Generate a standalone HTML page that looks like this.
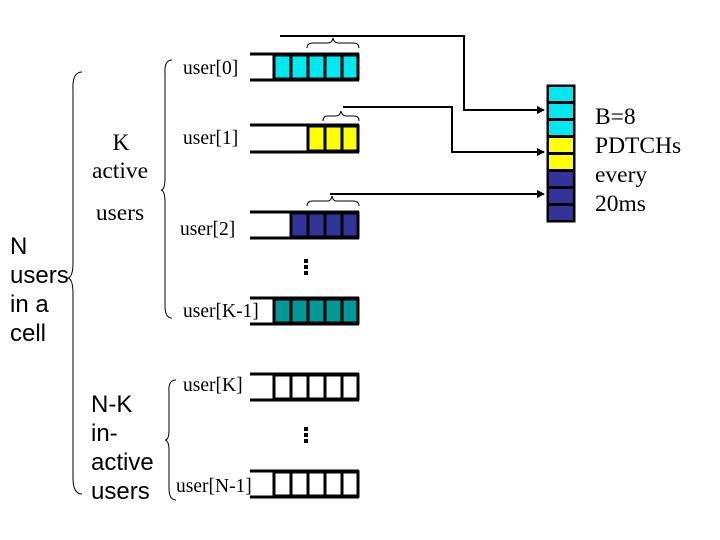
<!DOCTYPE html>
<html><head><style>
body{margin:0;background:#fff;width:720px;height:540px;overflow:hidden}
svg{display:block}
.s{font-family:"Liberation Serif",serif;font-size:19.5px}
.b{font-family:"Liberation Serif",serif;font-size:23.5px}
.k{font-family:"Liberation Serif",serif;font-size:23.5px}
.a{font-family:"Liberation Sans",sans-serif;font-size:24px}
</style></head><body>
<svg width="720" height="540" viewBox="0 0 720 540">
<defs><marker id="ar" markerWidth="8" markerHeight="8" refX="7" refY="4" orient="auto" markerUnits="userSpaceOnUse"><path d="M0,0 L8,4 L0,8z" fill="#000"/></marker></defs>
<g fill="none" stroke="#000" stroke-width="1">
<path d="M82,72 Q72,72 73,90 L73,262 Q73,277 68,278 Q73,279 73,294 L73,478 Q73,494 82,494"/>
<path d="M172,60 Q164,60 165,74 L165,178 Q165,190 161,190 Q165,191 165,202 L165,306 Q165,318 172,318"/>
<path d="M176,380 Q168,380 169,392 L169,430 Q169,440 165,440 Q169,441 169,450 L169,488 Q169,500 176,500"/>
<path d="M307,48 Q307,43 313,43 L328,43 Q332,43 333,38 Q334,43 338,43 L353,43 Q359,43 359,48"/>
<path d="M323,121 Q323,116 328,116 L336,116 Q340,116 341,111 Q342,116 346,116 L354,116 Q359,116 359,121"/>
<path d="M307,206 Q307,201 313,201 L328,201 Q331,201 332,196 Q333,201 336,201 L353,201 Q359,201 359,206"/>
</g>
<g fill="none" stroke="#000" stroke-width="2">
<path d="M280,36 L464,36 L464,110 L544,110" marker-end="url(#ar)"/>
<path d="M343,107 L452,107 L452,152 L544,152" marker-end="url(#ar)"/>
<path d="M330,194 L544,194" marker-end="url(#ar)"/>
</g>
<g stroke="#000" stroke-width="3">
<line x1="250" y1="54" x2="359" y2="54"/><line x1="250" y1="80" x2="359" y2="80"/>
<line x1="250" y1="125" x2="359" y2="125"/><line x1="250" y1="152" x2="359" y2="152"/>
<line x1="250" y1="212" x2="359" y2="212"/><line x1="250" y1="238" x2="359" y2="238"/>
<line x1="250" y1="298" x2="359" y2="298"/><line x1="250" y1="324" x2="359" y2="324"/>
<line x1="250" y1="374" x2="359" y2="374"/><line x1="250" y1="400" x2="359" y2="400"/>
<line x1="250" y1="471" x2="359" y2="471"/><line x1="250" y1="497" x2="359" y2="497"/>
</g>
<g stroke="#000" stroke-width="3">
<rect x="274" y="55" width="17" height="24" fill="#00e8f0"/><rect x="291" y="55" width="17" height="24" fill="#00e8f0"/><rect x="308" y="55" width="17" height="24" fill="#00e8f0"/><rect x="325" y="55" width="17" height="24" fill="#00e8f0"/><rect x="342" y="55" width="16" height="24" fill="#00e8f0"/>
<rect x="308" y="126" width="17" height="25" fill="#ffff00"/><rect x="325" y="126" width="17" height="25" fill="#ffff00"/><rect x="342" y="126" width="16" height="25" fill="#ffff00"/>
<rect x="291" y="213" width="17" height="24" fill="#333399"/><rect x="308" y="213" width="17" height="24" fill="#333399"/><rect x="325" y="213" width="17" height="24" fill="#333399"/><rect x="342" y="213" width="16" height="24" fill="#333399"/>
<rect x="274" y="299" width="17" height="24" fill="#009999"/><rect x="291" y="299" width="17" height="24" fill="#009999"/><rect x="308" y="299" width="17" height="24" fill="#009999"/><rect x="325" y="299" width="17" height="24" fill="#009999"/><rect x="342" y="299" width="16" height="24" fill="#009999"/>
<rect x="274" y="375" width="17" height="24" fill="#fff"/><rect x="291" y="375" width="17" height="24" fill="#fff"/><rect x="308" y="375" width="17" height="24" fill="#fff"/><rect x="325" y="375" width="17" height="24" fill="#fff"/><rect x="342" y="375" width="16" height="24" fill="#fff"/>
<rect x="274" y="472" width="17" height="24" fill="#fff"/><rect x="291" y="472" width="17" height="24" fill="#fff"/><rect x="308" y="472" width="17" height="24" fill="#fff"/><rect x="325" y="472" width="17" height="24" fill="#fff"/><rect x="342" y="472" width="16" height="24" fill="#fff"/>
</g>
<g fill="#000">
<rect x="304" y="259" width="4" height="4"/><rect x="304" y="265" width="4" height="4"/><rect x="304" y="271" width="4" height="4"/>
<rect x="304" y="427" width="4" height="4"/><rect x="304" y="433" width="4" height="4"/><rect x="304" y="439" width="4" height="4"/>
</g>
<g stroke="#000" stroke-width="3">
<rect x="548" y="86" width="26" height="135" fill="#000"/>
<rect x="549" y="87" width="24" height="14" fill="#00e8f0" stroke="none"/>
<rect x="549" y="104" width="24" height="14" fill="#00e8f0" stroke="none"/>
<rect x="549" y="121" width="24" height="14" fill="#00e8f0" stroke="none"/>
<rect x="549" y="138" width="24" height="14" fill="#ffff00" stroke="none"/>
<rect x="549" y="155" width="24" height="14" fill="#ffff00" stroke="none"/>
<rect x="549" y="172" width="24" height="14" fill="#333399" stroke="none"/>
<rect x="549" y="189" width="24" height="14" fill="#333399" stroke="none"/>
<rect x="549" y="206" width="24" height="14" fill="#333399" stroke="none"/>
</g>
<g class="b">
<text x="595" y="124">B=8</text><text x="595" y="153">PDTCHs</text><text x="595" y="182">every</text><text x="595" y="211">20ms</text>
</g>
<g class="k">
<text x="121" y="150" text-anchor="middle">K</text><text x="120" y="178" text-anchor="middle">active</text><text x="120" y="220" text-anchor="middle">users</text>
</g>
<g class="s">
<text x="183" y="74">user[0]</text><text x="183" y="144">user[1]</text><text x="180" y="235">user[2]</text>
<text x="183" y="317">user[K-1]</text><text x="183" y="391">user[K]</text><text x="176" y="492">user[N-1]</text>
</g>
<g class="a">
<text x="10" y="254">N</text><text x="10" y="283">users</text><text x="10" y="312">in a</text><text x="10" y="341">cell</text>
<text x="91" y="412">N-K</text><text x="91" y="441">in-</text><text x="91" y="470">active</text><text x="91" y="499">users</text>
</g>
</svg>
</body></html>
